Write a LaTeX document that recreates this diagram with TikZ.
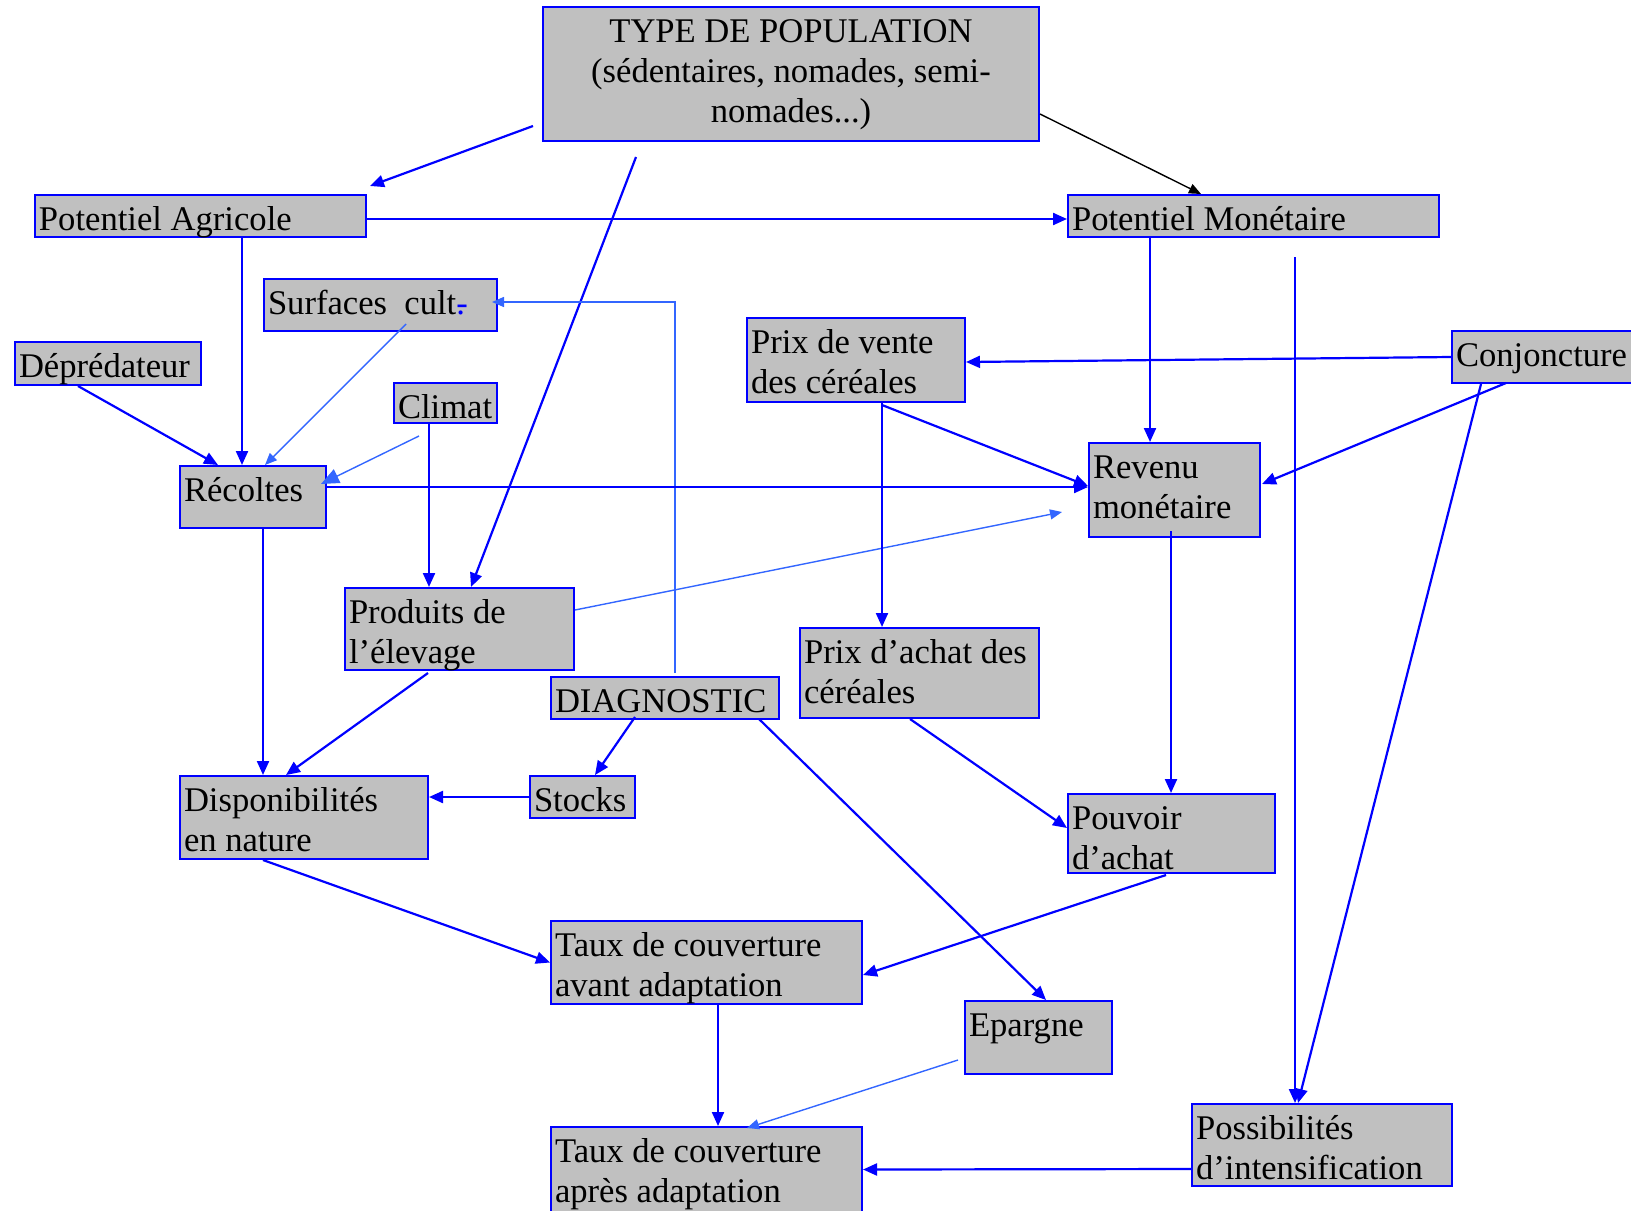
\documentclass[tikz,border=0pt]{standalone}
\usepackage{fontspec}
\setmainfont{Liberation Serif}
\usetikzlibrary{arrows.meta}
\definecolor{bleu}{RGB}{0,0,255}
\definecolor{bleuclair}{RGB}{51,102,255}
\definecolor{gris}{RGB}{192,192,192}
\tikzset{
  boite/.style={draw=bleu, line width=1pt, fill=gris, inner xsep=2pt, inner ysep=0pt, align=flush left, text height=17.5pt, font=\fontsize{17.3}{20}\selectfont},
  fleche/.style={draw=bleu, line width=1.1pt, -{Triangle[length=7pt,width=6pt]}},
  lien/.style={draw=bleuclair, line width=0.7pt, -{Triangle[length=6pt,width=5pt]}},
  noir/.style={draw=black, line width=0.7pt, -{Triangle[length=6pt,width=5pt]}}
}
\begin{document}
\begin{tikzpicture}[x=0.5pt, y=-0.5pt]
\path[use as bounding box, clip] (0,0) rectangle (1631,1210);
\node[boite, text width=244pt, align=flush center, text depth=49.5pt] (type) at (791,74) {TYPE DE POPULATION\\(sédentaires, nomades, semi-\\nomades...)};
\node[boite, text width=161.5pt, text depth=3.5pt] (pagr) at (200.5,216) {Potentiel Agricole};
\node[boite, text width=181.5pt, text depth=3.5pt] (pmon) at (1253.5,216) {Potentiel Monétaire};
\node[boite, text width=112.5pt, text depth=8.5pt] (surf) at (380.5,305) {Surfaces\ \ cult\textcolor{bleu}{\rlap{-}.}};
\node[boite, text width=89pt, text depth=4pt] (depr) at (108,363.5) {Déprédateur};
\node[boite, text width=47.5pt, text depth=2.5pt] (climat) at (445.5,403) {Climat};
\node[boite, text width=105pt, text depth=24.5pt] (pvente) at (856,360) {Prix de vente\\des céréales};
\node[boite, text width=92.5pt, text depth=8.5pt] (conj) at (1548.5,357) {Conjoncture};
\node[boite, text width=69pt, text depth=13.5pt] (recol) at (253,497) {Récoltes};
\node[boite, text width=81.5pt, text depth=29.5pt] (revenu) at (1174.5,490) {Revenu\\monétaire};
\node[boite, text width=110.5pt, text depth=23.5pt] (prod) at (459.5,629) {Produits de\\l’élevage};
\node[boite, text width=110pt, text depth=3.5pt] (diag) at (665,698) {DIAGNOSTIC};
\node[boite, text width=115.5pt, text depth=27.5pt] (pachat) at (919.5,673) {Prix d’achat des\\céréales};
\node[boite, text width=120pt, text depth=24pt] (dispo) at (304,817.5) {Disponibilités\\en nature};
\node[boite, text width=48.5pt, text depth=3.5pt] (stocks) at (582.5,797) {Stocks};
\node[boite, text width=99.5pt, text depth=22pt] (pouvoir) at (1171.5,833.5) {Pouvoir\\d’achat};
\node[boite, text width=151.5pt, text depth=24pt] (tavant) at (706.5,962.5) {Taux de couverture\\avant adaptation};
\node[boite, text width=69.5pt, text depth=19pt] (epargne) at (1038.5,1037.5) {Epargne};
\node[boite, text width=151.5pt, text depth=25pt] (tapres) at (706.5,1169.5) {Taux de couverture\\après adaptation};
\node[boite, text width=126pt, text depth=23.5pt] (poss) at (1322,1145) {Possibilités\\d’intensification};
\draw[fleche] ([shift={(-9,-16)}]type.south west) -- ([shift={(3,-8)}]pagr.north east);
\draw[fleche] ([shift={(-155,15)}]type.south) -- ([shift={(11.5,0)}]prod.north);
\draw[noir] ([shift={(0,40)}]type.east) -- ([shift={(-52.5,0)}]pmon.north);
\draw[fleche] ([shift={(0,3)}]pagr.east) -- ([shift={(0,3)}]pmon.west);
\draw[fleche] ([shift={(41.5,0)}]pagr.south) -- ([shift={(-11,0)}]recol.north);
\draw[fleche] ([shift={(-30,0)}]depr.south) -- ([shift={(-35,0)}]recol.north);
\draw[lien] ([shift={(25.5,-8)}]surf.south) -- ([shift={(12,0)}]recol.north);
\draw[lien, -{Triangle[length=9pt,width=7.5pt]}] ([shift={(-26.5,12)}]climat.south) -- ([shift={(-6,-13)}]recol.east);
\draw[fleche] ([shift={(-16.5,0)}]climat.south) -- ([shift={(-30.5,0)}]prod.north);
\draw[lien] ([shift={(10,-3)}]diag.north) |- ([shift={(-6,-3)}]surf.east);
\draw[fleche] ([shift={(0,-10)}]recol.east) -- ([shift={(0,-3)}]revenu.west);
\draw[fleche] ([shift={(10,0)}]recol.south) -- ([shift={(-41,0)}]dispo.north);
\draw[lien] ([shift={(0,-19)}]prod.east) -- ([shift={(-26,22)}]revenu.west);
\draw[fleche] ([shift={(-31.5,2)}]prod.south) -- ([shift={(-18,0)}]dispo.north);
\draw[fleche] ([shift={(26,2)}]pvente.south) -- ([shift={(0,-4)}]revenu.west);
\draw[fleche] ([shift={(26,0)}]pvente.south) -- ([shift={(-37.5,0)}]pachat.north);
\draw[fleche] (conj.west) -- ([shift={(0,2)}]pvente.east);
\draw[fleche] ([shift={(-42.5,-1)}]conj.south) -- ([shift={(1,-6)}]revenu.east);
\draw[fleche] ([shift={(-67.5,0)}]conj.south) -- ([shift={(-24,0)}]poss.north);
\draw[fleche] ([shift={(-103.5,0)}]pmon.south) -- ([shift={(-24.5,0)}]revenu.north);
\draw[fleche] ([shift={(41.5,19)}]pmon.south) -- ([shift={(-27,0)}]poss.north);
\draw[fleche] ([shift={(-3.5,-7)}]revenu.south) -- ([shift={(-0.5,0)}]pouvoir.north);
\draw[fleche] ([shift={(-9.5,0)}]pachat.south) -- ([shift={(0,-5.5)}]pouvoir.west);
\draw[fleche] ([shift={(-30,-3)}]diag.south) -- ([shift={(12.5,0)}]stocks.north);
\draw[fleche] ([shift={(94,-1)}]diag.south) -- ([shift={(7.5,0)}]epargne.north);
\draw[fleche] (stocks.west) -- (stocks.west -| dispo.east);
\draw[fleche] ([shift={(-41,0)}]dispo.south) -- (tavant.west);
\draw[fleche] ([shift={(-5.5,1)}]pouvoir.south) -- ([shift={(0,12.5)}]tavant.east);
\draw[fleche] ([shift={(11.5,0)}]tavant.south) -- ([shift={(11.5,0)}]tapres.north);
\draw[lien] ([shift={(-6,22.5)}]epargne.west) -- ([shift={(40.5,2)}]tapres.north);
\draw[fleche] ([shift={(0,24)}]poss.west) -- (tapres.east);
\end{tikzpicture}
\end{document}
